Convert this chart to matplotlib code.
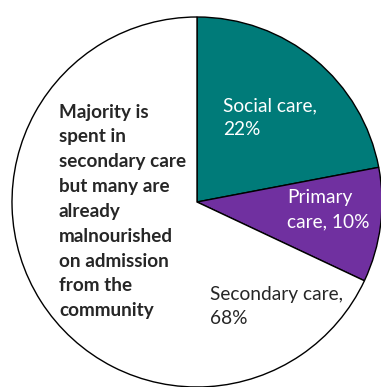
import matplotlib
matplotlib.use('Agg')
import matplotlib.pyplot as plt

labels = ['Social care', 'Primary care', 'Secondary care']
shares = [22, 10, 68]
colours = ['#007B79', '#7030A0', '#FFFFFF']
note = 'Majority is\nspent in\nsecondary care\nbut many are\nalready\nmalnourished\non admission\nfrom the\ncommunity'

plt.rcParams['font.family'] = ['Lato', 'DejaVu Sans']

fig = plt.figure(figsize=(3.81, 3.87), dpi=100)
ax = fig.add_axes([12 / 381, 0.0, 370 / 381, 370 / 387])
ax.pie(shares, colors=colours, startangle=90, counterclock=False,
       wedgeprops=dict(edgecolor='black', linewidth=1.0), radius=1.0)
ax.set_xlim(-1, 1)
ax.set_ylim(-1, 1)
ax.set_aspect('equal')
ax.axis('off')
for p in ax.patches:
    p.set_clip_on(False)

# slice labels
ax.text(0.14, 0.457, 'Social care,\n22%', color='white', fontsize=13.8,
        ha='left', va='center', linespacing=1.5)
ax.text(0.486, -0.043, 'Primary\ncare, 10%', color='white', fontsize=13.8,
        ha='left', va='center', linespacing=1.5)
ax.text(0.07, -0.565, 'Secondary care,\n68%', color='#262626', fontsize=13.8,
        ha='left', va='center', linespacing=1.5)

# side note
ax.text(-0.746, -0.051, note, color='#262626', fontsize=13.6, fontweight='bold',
        ha='left', va='center', linespacing=1.56)

fig.savefig('out.png', dpi=100)
